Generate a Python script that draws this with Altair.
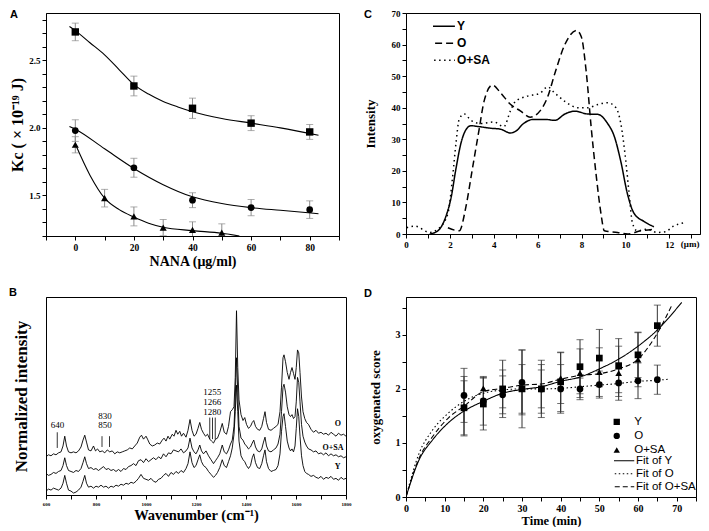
import altair as alt
import pandas as pd

SERIF = "Liberation Serif"
SANS = "Liberation Sans"

# ================= Panel A : Kc vs NANA =================
a_x_sq = [0, 20, 40, 60, 80]
a_y_sq = [2.71, 2.31, 2.145, 2.035, 1.97]
a_e_sq = [0.065, 0.073, 0.075, 0.055, 0.055]
a_x_ci = [0, 20, 40, 60, 80]
a_y_ci = [1.98, 1.705, 1.465, 1.41, 1.395]
a_e_ci = [0.08, 0.07, 0.055, 0.06, 0.065]
a_x_tr = [0, 10, 20, 30, 40, 50]
a_y_tr = [1.875, 1.48, 1.345, 1.262, 1.245, 1.225]
a_e_tr = [0.06, 0.065, 0.07, 0.06, 0.06, 0.065]
a_fx_sq = [-2, 0, 5, 10, 15, 20, 25, 30, 35, 40, 50, 60, 70, 83]
a_fy_sq = [2.75, 2.72, 2.63, 2.54, 2.43, 2.32, 2.25, 2.195, 2.155, 2.12, 2.07, 2.035, 2.0, 1.945]
a_fx_ci = [-2, 0, 10, 20, 30, 40, 50, 60, 70, 83]
a_fy_ci = [2.01, 1.99, 1.845, 1.70, 1.58, 1.49, 1.44, 1.41, 1.39, 1.365]
a_fx_tr = [0, 5, 10, 15, 20, 25, 30, 40, 50, 56]
a_fy_tr = [1.88, 1.65, 1.48, 1.395, 1.34, 1.295, 1.265, 1.24, 1.22, 1.2]

# ================= Panel B : Raman spectra =================
b_w_O = [600, 610, 620, 630, 640, 650, 660, 668, 675, 682, 690, 700, 710, 720, 730, 740, 748, 755, 762, 770,
         780, 790, 798, 806, 815, 825, 835, 845, 855, 865, 875, 885, 895, 905, 915, 925, 935, 945, 955, 965,
         975, 982, 990, 1000, 1006, 1015, 1025, 1035, 1045, 1055, 1065, 1072, 1080, 1088, 1095, 1105, 1112,
         1120, 1127, 1135, 1142, 1150, 1160, 1168, 1176, 1184, 1192, 1200, 1208, 1215, 1222, 1230, 1238, 1246,
         1255, 1262, 1270, 1278, 1286, 1295, 1305, 1313, 1322, 1330, 1338, 1345, 1352, 1357, 1362, 1367, 1372,
         1380, 1388, 1395, 1402, 1410, 1418, 1425, 1431, 1438, 1446, 1455, 1463, 1470, 1476, 1482, 1490, 1500,
         1510, 1520, 1528, 1536, 1542, 1548, 1552, 1558, 1565, 1572, 1578, 1584, 1590, 1596, 1601, 1606, 1611,
         1616, 1622, 1628, 1635, 1642, 1650, 1660, 1670, 1680, 1690, 1700, 1710, 1720, 1730, 1740, 1750, 1760,
         1770, 1780, 1790, 1800]
b_i_O = [39, 41, 40, 42, 41, 43, 44, 50, 60, 50, 44, 43, 44, 43, 45, 49, 56, 61, 54, 46,
         45, 50, 45, 47, 44, 45, 43, 46, 44, 45, 42, 44, 43, 44, 45, 46, 48, 47, 50, 53,
         59, 61, 57, 60, 57, 52, 50, 51, 53, 52, 56, 58, 55, 60, 57, 62, 60,
         66, 62, 65, 60, 63, 59, 66, 77, 66, 60, 62, 68, 74, 67, 63, 60, 62,
         57, 55, 53, 57, 58, 64, 73, 64, 62, 70, 85, 87, 90, 120, 188, 130, 97,
         82, 76, 79, 72, 68, 70, 74, 76, 70, 67, 66, 70, 78, 85, 74, 67, 66,
         68, 70, 72, 85, 110, 140, 143, 136, 125, 118, 125, 130, 124, 118, 130, 148, 145,
         125, 100, 85, 78, 74, 72, 67, 64, 66, 63, 64, 62, 63, 61, 64, 62, 60,
         63, 61, 62, 60]
b_w_S = [600, 610, 620, 630, 640, 650, 660, 668, 675, 682, 690, 700, 710, 720, 730, 740, 748, 755, 762, 770,
         780, 790, 800, 810, 820, 830, 840, 850, 860, 870, 880, 890, 900, 910, 920, 930, 940, 950, 960, 970,
         980, 990, 1000, 1010, 1020, 1030, 1040, 1050, 1060, 1070, 1080, 1090, 1100, 1110, 1120, 1130, 1140,
         1150, 1160, 1168, 1176, 1184, 1192, 1200, 1208, 1215, 1222, 1230, 1240, 1250, 1260, 1270, 1278, 1286,
         1295, 1305, 1313, 1322, 1330, 1338, 1345, 1352, 1357, 1362, 1367, 1372, 1380, 1388, 1395, 1402, 1410,
         1418, 1425, 1431, 1438, 1446, 1455, 1463, 1470, 1476, 1482, 1490, 1500, 1510, 1520, 1528, 1536, 1542,
         1548, 1552, 1558, 1565, 1572, 1578, 1584, 1590, 1596, 1601, 1606, 1611, 1616, 1622, 1628, 1635, 1642,
         1650, 1660, 1670, 1680, 1690, 1700, 1710, 1720, 1730, 1740, 1750, 1760, 1770, 1780, 1790, 1800]
b_i_S = [22, 20, 21, 23, 22, 24, 25, 30, 38, 30, 25, 24, 23, 25, 24, 27, 33, 39, 32, 27,
         28, 26, 27, 25, 27, 29, 26, 27, 25, 26, 24, 26, 24, 27, 26, 29, 30, 32, 30, 35,
         36, 33, 37, 34, 36, 38, 36, 39, 37, 42, 39, 43, 42, 46, 45, 44, 47,
         43, 45, 48, 58, 48, 44, 42, 46, 51, 45, 42, 45, 40, 36, 32, 35, 38,
         42, 51, 44, 42, 46, 52, 56, 70, 100, 140, 105, 70, 58, 56, 52, 50, 47,
         49, 53, 56, 49, 45, 44, 47, 54, 59, 50, 45, 44, 46, 48, 52, 62, 85,
         110, 113, 105, 90, 82, 80, 82, 78, 80, 95, 120, 115, 95, 72, 60, 54, 50,
         47, 46, 44, 45, 42, 43, 41, 43, 40, 42, 40, 41, 39, 40, 38, 39]
b_w_Y = b_w_S
b_i_Y = [4, 6, 5, 7, 6, 5, 7, 12, 20, 12, 5, 4, 2, 3, 5, 8, 14, 20, 12, 8,
         9, 7, 9, 8, 10, 8, 9, 7, 9, 8, 10, 9, 11, 10, 12, 11, 13, 12, 14, 17,
         21, 17, 16, 15, 17, 14, 13, 16, 17, 20, 22, 19, 23, 21, 24, 22, 25,
         23, 27, 32, 44, 33, 28, 30, 36, 41, 34, 30, 28, 24, 21, 18, 20, 23,
         28, 36, 30, 28, 34, 40, 48, 62, 85, 112, 85, 55, 40, 36, 34, 30, 27,
         30, 38, 42, 33, 28, 27, 32, 40, 46, 34, 27, 24, 25, 26, 30, 42, 65,
         80, 83, 70, 55, 48, 45, 47, 44, 50, 68, 88, 80, 60, 40, 30, 24, 22,
         21, 19, 20, 18, 17, 19, 16, 18, 17, 19, 16, 17, 15, 18, 16, 17]
b_mark_w = [645, 824, 854, 1255, 1266, 1277]
b_mark_lo = [48, 49, 49, 57, 57, 57]
b_mark_hi = [64, 60, 60, 79, 79, 79]
b_note_text = ["640", "830", "850", "1255", "1266", "1280"]
b_note_w = [646, 836, 836, 1265, 1265, 1265]
b_note_i = [71, 81, 71, 105, 95, 85]
b_series_text = ["O", "O+SA", "Y"]
b_series_w = [1767, 1748, 1767]
b_series_i = [72, 48, 29]

# ================= Panel C : intensity profiles =================
c_x_Y = [1.08, 1.45, 1.76, 2.06, 2.28, 2.51, 2.73, 2.96, 3.33, 3.86, 4.31, 4.76, 4.99, 5.36, 5.81, 6.34,
         6.79, 7.24, 7.69, 8.29, 8.74, 9.19, 9.49, 9.79, 10.09, 10.39, 10.84, 11.3]
c_y_Y = [0, 1, 4.5, 11.7, 20.8, 28.9, 33, 34.3, 34, 33.5, 33.2, 32, 32.5, 35, 36.3, 36.3,
         36, 38, 38.9, 38, 37.9, 35, 31, 23, 12.8, 6.6, 4, 2.3]
c_x_O = [1.91, 2.43, 2.73, 3.03, 3.33, 3.56, 3.94, 4.31, 4.76, 5.21, 5.66, 6.11, 6.45, 6.79, 7.24, 7.77,
         7.99, 8.22, 8.44, 8.67, 8.89, 9.04, 9.64, 10.1, 10.7, 11.3]
c_y_O = [2, 1, 8.6, 20.8, 33, 42.1, 47.2, 44.7, 41.1, 39, 37, 39, 43.3, 51, 60, 64.5,
         62.5, 51, 33.8, 18.5, 6.3, 1, 0.5, 0, 1, 1.5]
c_x_S = [0.03, 0.4, 1.08, 1.45, 1.91, 2.13, 2.28, 2.43, 2.66, 2.96, 3.41, 4.01, 4.46, 4.76, 4.99, 5.51,
         6.11, 6.45, 6.79, 7.24, 7.84, 8.29, 8.74, 9.19, 9.57, 9.79, 10.02, 10.17, 10.32, 10.54, 10.99,
         11.44, 11.82, 12.19, 12.64]
c_y_S = [2, 2.5, 0.5, 1.5, 6.5, 18.5, 28.9, 36.5, 38, 36, 35, 35.5, 34, 39, 42, 43.6,
         44.6, 46.6, 44.6, 42, 40, 40, 41, 41.6, 40, 35, 23, 12.8, 3.5, 1, 1.5,
         0.5, 0.7, 2.5, 3.5]
c_names = ["Y", "O", "O+SA"]

# ================= Panel D : oxygenated score =================
d_t = [15, 20, 25, 30, 35, 40, 45, 50, 55, 60, 65]
d_Y = [1.65, 1.72, 2.0, 2.0, 2.0, 2.13, 2.41, 2.57, 2.43, 2.63, 3.17]
d_Y_err = [0.5, 0.48, 0.53, 0.72, 0.53, 0.55, 0.5, 0.53, 0.5, 0.42, 0.38]
d_O = [1.88, 1.78, 1.89, 2.12, 2.0, 2.0, 2.0, 2.08, 2.11, 2.15, 2.17]
d_O_err = [0.5, 0.45, 0.35, 0.6, 0.35, 0.45, 0.2, 0.25, 0.25, 0.33, 0.27]
d_t_S = [15, 20, 25, 30, 35, 40, 45, 50, 55, 60]
d_S = [1.68, 2.01, 2.0, 2.0, 2.0, 2.2, 2.29, 2.31, 2.29, 2.54]
d_S_err = [0.55, 0.2, 0.35, 0.45, 0.45, 0.47, 0.45, 0.45, 0.5, 0.5]
d_fit_t = [0, 3.4, 6.8, 11.06, 15, 20, 25, 30, 35, 40, 45, 50, 55, 60, 65]
d_fit_Y = [0, 0.69, 1.05, 1.38, 1.59, 1.77, 1.92, 1.99, 2.04, 2.14, 2.22, 2.37, 2.55, 2.79, 3.09]
d_fit_Y_end = (71.3, 3.6)
d_fit_S = [0, 0.72, 1.11, 1.47, 1.68, 1.95, 2.01, 2.07, 2.09, 2.18, 2.25, 2.28, 2.37, 2.55, 3.03]
d_fit_S_end = (68.9, 3.57)
d_fit_O = [0, 0.81, 1.23, 1.56, 1.77, 1.92, 1.98, 2.0, 2.0, 2.01, 2.04, 2.07, 2.1, 2.14, 2.16]
d_fit_O_end = (68, 2.18)
d_marker_names = ["Y", "O", "O+SA"]
d_fit_names = ["Fit of Y", "Fit of O", "Fit of O+SA"]


# ---------------- helpers ----------------
def axis(title, values, label_expr, lfs, tfs, tpad, **kw):
    return alt.Axis(title=title, values=values, labelExpr=label_expr, grid=False,
                    tickSize=4, tickColor="black", domainColor="black", labelColor="black",
                    titleColor="black", labelFont=SERIF, labelFontWeight="bold", labelFontSize=lfs,
                    titleFont=SERIF, titleFontWeight="bold", titleFontSize=tfs, titlePadding=tpad,
                    labelPadding=2, labelFlush=False, labelOverlap=False, **kw)


def err_df(xs, ys, es):
    return pd.DataFrame({"x": xs, "y": ys,
                         "lo": [y - e for y, e in zip(ys, es)],
                         "hi": [y + e for y, e in zip(ys, es)]})


def letter(t, x, y):
    return alt.Chart(pd.DataFrame({"t": [t]})).mark_text(
        font=SANS, fontWeight="bold", fontSize=11, align="left", baseline="top", color="black"
    ).encode(x=alt.value(x), y=alt.value(y), text="t:N")


def errorbars(df, X, Y, color, cap):
    base = alt.Chart(df)
    return [
        base.mark_rule(color=color, strokeWidth=1, clip=True).encode(x=X("x"), y=Y("lo"), y2="hi:Q"),
        base.mark_tick(color=color, orient="horizontal", size=cap, thickness=1, clip=True).encode(x=X("x"), y=Y("lo")),
        base.mark_tick(color=color, orient="horizontal", size=cap, thickness=1, clip=True).encode(x=X("x"), y=Y("hi")),
    ]


# ---------------- Panel A ----------------
A_W, A_H = 293, 223
ax_a_x = axis("NANA (μg/ml)", list(range(-10, 91, 10)),
              "datum.value >= 0 && datum.value % 20 == 0 ? format(datum.value, 'd') : ''", 9.5, 14, 3)
ax_a_y = axis("Kc ( × 10⁻¹⁹ J)", [round(1.2 + 0.1 * i, 1) for i in range(17)],
              "indexof([1.5, 2, 2.5], datum.value) >= 0 ? format(datum.value, '.1f') : ''", 9, 16, 3)


def AX(f):
    return alt.X(f, type="quantitative", scale=alt.Scale(domain=[-10, 90], nice=False, zero=False), axis=ax_a_x)


def AY(f):
    return alt.Y(f, type="quantitative", scale=alt.Scale(domain=[1.2, 2.85], nice=False, zero=False), axis=ax_a_y)


a_layers = []
for xs, ys, es, shp, sz in [(a_x_sq, a_y_sq, a_e_sq, "square", 55),
                            (a_x_ci, a_y_ci, a_e_ci, "circle", 45),
                            (a_x_tr, a_y_tr, a_e_tr, "triangle-up", 50)]:
    df = err_df(xs, ys, es)
    a_layers += errorbars(df, AX, AY, "#8a8a8a", 7)
    a_layers.append(alt.Chart(df).mark_point(shape=shp, filled=True, color="black", size=sz, opacity=1, clip=True)
                    .encode(x=AX("x"), y=AY("y")))
for fx, fy in [(a_fx_sq, a_fy_sq), (a_fx_ci, a_fy_ci), (a_fx_tr, a_fy_tr)]:
    a_layers.append(alt.Chart(pd.DataFrame({"x": fx, "y": fy}))
                    .mark_line(color="black", strokeWidth=1.1, interpolate="monotone", clip=True)
                    .encode(x=AX("x"), y=AY("y")))
a_layers.append(letter("A", -36, -4))
panel_a = alt.layer(*a_layers).properties(width=A_W, height=A_H)

# ---------------- Panel B ----------------
B_W, B_H = 300, 198
ax_b_x = axis("Wavenumber    (cm⁻¹)", list(range(600, 1801, 100)),
              "datum.value % 200 == 0 ? format(datum.value, 'd') : ''", 5, 14.5, 2)
ax_b_y = alt.Axis(title="Normalized intensity", labels=False, ticks=False, grid=False, domainColor="black",
                  titleFont=SERIF, titleFontWeight="bold", titleFontSize=17, titleColor="black", titlePadding=16)


def BX(f):
    return alt.X(f, type="quantitative", scale=alt.Scale(domain=[600, 1800], nice=False, zero=False), axis=ax_b_x)


def BY(f):
    return alt.Y(f, type="quantitative", scale=alt.Scale(domain=[0, 202], nice=False, zero=False), axis=ax_b_y)


b_rows = []
for name, ws, vals in [("O", b_w_O, b_i_O), ("O+SA", b_w_S, b_i_S), ("Y", b_w_Y, b_i_Y)]:
    for w, v in zip(ws, vals):
        b_rows.append({"w": w, "v": v, "s": name})
b_df = pd.DataFrame(b_rows)
b_layers = [
    alt.Chart(b_df).mark_line(color="black", strokeWidth=0.9).encode(x=BX("w"), y=BY("v"), detail="s:N"),
    alt.Chart(pd.DataFrame({"w": b_mark_w, "lo": b_mark_lo, "hi": b_mark_hi}))
    .mark_rule(color="black", strokeWidth=0.8).encode(x=BX("w"), y=BY("lo"), y2="hi:Q"),
    alt.Chart(pd.DataFrame({"w": b_note_w, "v": b_note_i, "t": b_note_text}))
    .mark_text(font=SERIF, fontSize=9, color="black").encode(x=BX("w"), y=BY("v"), text="t:N"),
    alt.Chart(pd.DataFrame({"w": b_series_w, "v": b_series_i, "t": b_series_text}))
    .mark_text(font=SERIF, fontWeight="bold", fontSize=8, color="black").encode(x=BX("w"), y=BY("v"), text="t:N"),
    letter("B", -37, -10),
]
panel_b = alt.layer(*b_layers).properties(width=B_W, height=B_H)

# ---------------- Panel C ----------------
C_W, C_H = 294, 221
ax_c_x = axis(None, list(range(0, 14)),
              "datum.value % 2 == 0 && datum.value <= 12 ? format(datum.value, 'd') : ''", 9, 12, 2)
ax_c_y = axis("Intensity", list(range(0, 71, 5)),
              "datum.value % 10 == 0 ? format(datum.value, 'd') : ''", 9, 13, 14)


def CX(f):
    return alt.X(f, type="quantitative", scale=alt.Scale(domain=[0, 13.4], nice=False, zero=False), axis=ax_c_x)


def CY(f):
    return alt.Y(f, type="quantitative", scale=alt.Scale(domain=[0, 70], nice=False, zero=False), axis=ax_c_y)


c_rows = []
for name, xs, ys in [("Y", c_x_Y, c_y_Y), ("O", c_x_O, c_y_O), ("O+SA", c_x_S, c_y_S)]:
    for x, y in zip(xs, ys):
        c_rows.append({"x": x, "y": y, "s": name})
c_df = pd.DataFrame(c_rows)
c_layers = [
    alt.Chart(c_df).mark_line(color="black", strokeWidth=1.5, interpolate="monotone", clip=True).encode(
        x=CX("x"), y=CY("y"),
        strokeDash=alt.StrokeDash("s:N", scale=alt.Scale(domain=c_names, range=[[1, 0], [7, 4], [1.5, 3.5]]),
                                  legend=alt.Legend(orient="none", legendX=27, legendY=5, title=None,
                                                    symbolType="M-2.8,0H2.8", symbolSize=121,
                                                    symbolStrokeColor="black", symbolStrokeWidth=1.5,
                                                    labelFont=SANS, labelFontWeight="bold", labelFontSize=12,
                                                    labelOffset=11, rowPadding=0, clipHeight=16.5, padding=0,
                                                    labelColor="black")),
    ),
    alt.Chart(pd.DataFrame({"x": [12.95], "t": ["(μm)"]})).mark_text(
        font=SERIF, fontWeight="bold", fontSize=9, baseline="top", color="black"
    ).encode(x=CX("x"), y=alt.value(C_H + 6), text="t:N"),
    letter("C", -42, -4),
]
panel_c = alt.layer(*c_layers).properties(width=C_W, height=C_H)

# ---------------- Panel D ----------------
D_W, D_H = 290, 200
ax_d_x = axis("Time (min)", list(range(0, 76, 5)),
              "datum.value % 10 == 0 ? format(datum.value, 'd') : ''", 10, 12.5, 1)
ax_d_y = axis("oxygenated score", [0, 0.5, 1, 1.5, 2, 2.5, 3, 3.5],
              "datum.value % 1 == 0 ? format(datum.value, 'd') : ''", 10, 13, 13)


def DX(f):
    return alt.X(f, type="quantitative", scale=alt.Scale(domain=[0, 75], nice=False, zero=False), axis=ax_d_x)


def DY(f):
    return alt.Y(f, type="quantitative", scale=alt.Scale(domain=[0, 3.7], nice=False, zero=False), axis=ax_d_y)


d_layers = []
pt_rows = []
for name, ts, ys, es in [("Y", d_t, d_Y, d_Y_err), ("O", d_t, d_O, d_O_err), ("O+SA", d_t_S, d_S, d_S_err)]:
    d_layers += errorbars(err_df(ts, ys, es), DX, DY, "#333333", 7)
    for t, y in zip(ts, ys):
        pt_rows.append({"x": t, "y": y, "s": name})
fit_rows = []
for name, ys, end in [("Fit of Y", d_fit_Y, d_fit_Y_end), ("Fit of O", d_fit_O, d_fit_O_end),
                      ("Fit of O+SA", d_fit_S, d_fit_S_end)]:
    for t, y in zip(d_fit_t + [end[0]], ys + [end[1]]):
        fit_rows.append({"x": t, "y": y, "f": name})
d_layers.append(
    alt.Chart(pd.DataFrame(fit_rows)).mark_line(color="black", strokeWidth=1.1, interpolate="monotone", clip=True)
    .encode(x=DX("x"), y=DY("y"),
            strokeDash=alt.StrokeDash("f:N", scale=alt.Scale(domain=d_fit_names, range=[[1, 0], [1.5, 2.5], [5, 3]]),
                                      legend=alt.Legend(orient="none", legendX=208, legendY=157.5, title=None,
                                                        symbolType="M-2.5,0H2.5", symbolSize=121,
                                                        symbolStrokeColor="black", symbolStrokeWidth=1.1,
                                                        labelFont=SANS, labelFontSize=11.5, labelOffset=9,
                                                        rowPadding=0, clipHeight=12.5, padding=0,
                                                        labelColor="black"))))
d_layers.append(
    alt.Chart(pd.DataFrame(pt_rows)).mark_point(filled=True, color="black", size=45, opacity=1)
    .encode(x=DX("x"), y=DY("y"),
            shape=alt.Shape("s:N", scale=alt.Scale(domain=d_marker_names, range=["square", "circle", "triangle-up"]),
                            legend=alt.Legend(orient="none", legendX=205, legendY=118.3, title=None,
                                              symbolSize=40, symbolFillColor="black", symbolStrokeColor="black",
                                              labelFont=SANS, labelFontSize=11.5, labelOffset=11.7,
                                              rowPadding=0, clipHeight=13.3, padding=0, labelColor="black"))))
d_layers.append(letter("D", -42, -9))
panel_d = alt.layer(*d_layers).properties(width=D_W, height=D_H)

chart = (
    alt.concat(panel_a, panel_c, panel_b, panel_d, columns=2, spacing={"row": 17, "column": 11}, align="each")
    .resolve_scale(x="independent", y="independent", strokeDash="independent", shape="independent")
    .resolve_legend(strokeDash="independent", shape="independent")
    .properties(padding=0, background="white")
    .configure_view(stroke="black", strokeWidth=1)
)
chart.save("out.html", embed_options={"renderer": "svg", "actions": False})
